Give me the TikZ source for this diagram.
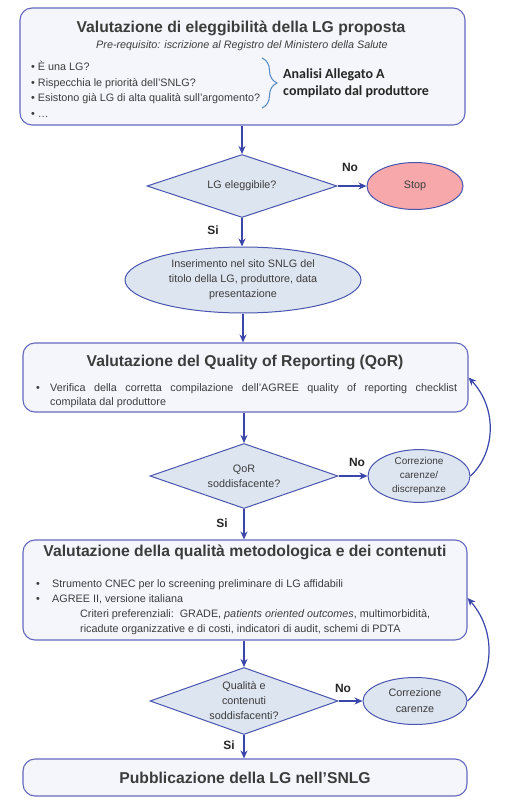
\documentclass[tikz,border=0pt]{standalone}
\usepackage{fontspec}
\setmainfont{Liberation Sans}
\newfontfamily\calibri{Carlito}
\usetikzlibrary{shapes.geometric,arrows.meta,decorations.pathreplacing}

\definecolor{frame}{HTML}{6468BE}
\definecolor{boxfill}{HTML}{F5F6FB}
\definecolor{dfill}{HTML}{DDE5F1}
\definecolor{dline}{HTML}{4A55AE}
\definecolor{arrowc}{HTML}{3A46AA}
\definecolor{stopfill}{HTML}{F6A8AA}
\definecolor{txt}{HTML}{3C3C3C}
\definecolor{bracec}{HTML}{5B8FC9}

\begin{document}
\begin{tikzpicture}[x=1pt, y=-1pt,
	box/.style={rectangle, rounded corners=12pt, draw=frame, fill=boxfill, line width=1.1pt},
	cond/.style={diamond, aspect=3, draw=dline, fill=dfill, line width=1pt, inner sep=0pt, align=center, text=txt, font=\fontsize{10.8}{15}\selectfont},
	oval/.style={ellipse, draw=dline, fill=dfill, line width=1pt, inner sep=0pt, align=center, text=txt},
	arr/.style={draw=arrowc, line width=1.2pt, -{Stealth[length=8pt,width=7pt]}},
	yn/.style={font=\bfseries\fontsize{12}{14}\selectfont, text=black!85},
	ttl/.style={font=\bfseries\fontsize{15.7}{18}\selectfont, text=txt, anchor=base, inner sep=0pt},
	body/.style={font=\fontsize{10.8}{13}\selectfont, text=txt, anchor=base west, inner sep=0pt}]
	
	\useasboundingbox (0,0) rectangle (506,810);
	
	% eleggibilita
	\node[box, minimum width=445pt, minimum height=117pt] (elig) at (242.5,66.5) {};
	\node[ttl] (eligtitle) at (241,33) {Valutazione di eleggibilità della LG proposta};
	\node[body, anchor=base, font=\itshape\fontsize{10.8}{13}\selectfont] (prereq) at (242,49) {Pre-requisito: iscrizione al Registro del Ministero della Salute};
	\node[body] (q1) at (31,71) {• È una LG?};
	\node[body] (q2) at (31,87) {• Rispecchia le priorità dell'SNLG?};
	\node[body] (q3) at (31,102) {• Esistono già LG di alta qualità sull'argomento?};
	\node[body] (q4) at (31,118) {• …};
	\draw[bracec, line width=1.1pt, decorate, decoration={brace, amplitude=15pt}] (262,58) -- (262,108);
	\node[body, font=\calibri\bfseries\fontsize{14}{16}\selectfont, text=black!85] (alla) at (283,79) {Analisi Allegato A};
	\node[body, font=\calibri\bfseries\fontsize{14}{16}\selectfont, text=black!85] (allb) at (283,96) {compilato dal produttore};
	
	\node[cond, minimum width=190pt, minimum height=63pt] (okelig) at (242,186) {LG eleggibile?};
	\node[oval, fill=stopfill, minimum width=96pt, minimum height=47pt, font=\fontsize{10.8}{13}\selectfont] (stop) at (415,186) {Stop};
	\node[oval, minimum width=236pt, minimum height=66pt, font=\fontsize{10.8}{15}\selectfont] (insert) at (243,280) {Inserimento nel sito SNLG del\\titolo della LG, produttore, data\\presentazione};
	\node[yn] (no1) at (350,167) {No};
	\node[yn] (si1) at (213,230) {Si};
	
	\path[arr] (okelig.north |- elig.south) -- (okelig.north);
	\path[arr] (okelig.east) -- (stop.west);
	\path[arr] (okelig.south) -- (okelig.south |- insert.north);
	
	% quality of reporting
	\node[box, minimum width=445pt, minimum height=69pt] (qor) at (245.5,377.5) {};
	\node[ttl] (qortitle) at (245,366) {Valutazione del Quality of Reporting (QoR)};
	\node[body] (qordot) at (36,391) {•};
	\node[body] (qora) at (50,391) {\makebox[407pt][s]{Verifica della corretta compilazione dell'AGREE quality of reporting checklist}};
	\node[body] (qorb) at (50,405) {compilata dal produttore};
	
	\node[cond, minimum width=188pt, minimum height=65pt] (okqor) at (244,476) {QoR\\soddisfacente?};
	\node[oval, minimum width=102pt, minimum height=46pt, font=\fontsize{10}{14}\selectfont] (fixqor) at (419,476) {Correzione\\carenze/\\discrepanze};
	\node[yn] (no2) at (357,462) {No};
	\node[yn] (si2) at (222,523) {Si};
	
	\path[arr] (insert.south) -- (insert.south |- qor.north);
	\path[arr] (okqor.north |- qor.south) -- (okqor.north);
	\path[arr] (okqor.east) -- (fixqor.west);
	\path[arr] (fixqor.east) .. controls +(24,-22) and +(30,32) .. (qor.east);
	
	% qualita metodologica
	\node[box, minimum width=444pt, minimum height=100pt] (meth) at (245,590) {};
	\node[ttl] (methtitle) at (245,556) {Valutazione della qualità metodologica e dei contenuti};
	\node[body] (methdota) at (36,587) {•};
	\node[body] (metha) at (52,587) {Strumento CNEC per lo screening preliminare di LG affidabili};
	\node[body] (methdotb) at (36,602) {•};
	\node[body] (methb) at (52,602) {AGREE II, versione italiana};
	\node[body] (methc) at (80,617) {Criteri preferenziali:\ \ GRADE, \textit{patients oriented outcomes}, multimorbidità,};
	\node[body] (methd) at (80,632) {ricadute organizzative e di costi, indicatori di audit, schemi di PDTA};
	
	\node[cond, minimum width=188pt, minimum height=67pt] (okmeth) at (244,701) {Qualità e\\contenuti\\soddisfacenti?};
	\node[oval, minimum width=104pt, minimum height=47pt, font=\fontsize{10.8}{16}\selectfont] (fixmeth) at (415,701) {Correzione\\carenze};
	\node[yn] (no3) at (343,688) {No};
	\node[yn] (si3) at (229,745) {Si};
	
	\path[arr] (okqor.south) -- (okqor.south |- meth.north);
	\path[arr] (okmeth.north |- meth.south) -- (okmeth.north);
	\path[arr] (okmeth.east) -- (fixmeth.west);
	\path[arr] (fixmeth.east) .. controls +(26,-22) and +(30,34) .. ([yshift=-8pt]meth.east);
	
	% pubblicazione
	\node[box, minimum width=444pt, minimum height=37pt, font=\bfseries\fontsize{15.7}{18}\selectfont, text=txt] (pub) at (245,777.5) {Pubblicazione della LG nell'SNLG};
	\path[arr] (okmeth.south) -- (okmeth.south |- pub.north);
\end{tikzpicture}
\end{document}
